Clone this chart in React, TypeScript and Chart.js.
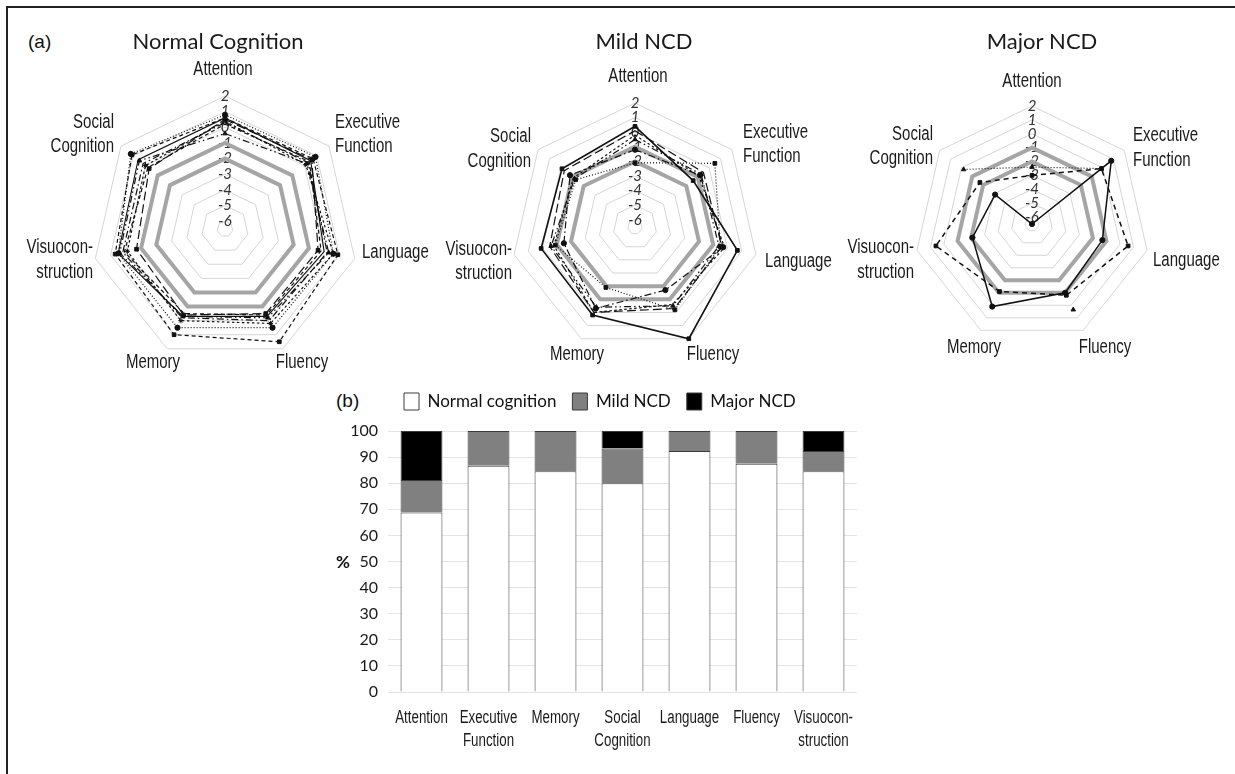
import React, { useEffect, useRef } from "react";
import { Chart, registerables } from "chart.js";

Chart.register(...registerables);

const ARIAL = "'Liberation Sans', Arial, sans-serif";
const HUMANIST = "Lato, 'Open Sans', sans-serif";
Chart.defaults.font.family = HUMANIST;

// ---------- radar panels: z-scores per cognitive domain ----------
const DOMAINS = ["Attention", "Executive Function", "Language", "Fluency", "Memory", "Visuoconstruction", "Social Cognition"];
const DOMAIN_LABEL_LINES = [
  ["Attention"],
  ["Executive", "Function"],
  ["Language"],
  ["Fluency"],
  ["Memory"],
  ["Visuocon-", "struction"],
  ["Social", "Cognition"],
];
const RING_TICKS = [-6.5, -6, -5, -4, -3, -2, -1, 0, 1, 2];
const RING_MIN = -6.5;
const RING_MAX = 2;
const CUTOFF_MILD = [-1, -1, -1, -1, -1, -1, -1];
const CUTOFF_MAJOR = [-2, -2, -2, -2, -2, -2, -2];

// Normal cognition (Att, EF, Lang, Flu, Mem, Vis, Soc)
const NC_A = [0.6, 0.7, 0.9, 1.5, 1.0, 0.7, 1.1];
const NC_B = [0.8, 0.9, 0.6, 0.5, 0.5, 0.5, 1.2];
const NC_C = [-0.4, 0.2, 0.3, -0.2, -0.3, 0.4, 0.5];
const NC_D = [0.5, 0.6, -0.4, -0.5, -0.4, -0.7, -0.3];
const NC_E = [0.3, 0.3, 0.2, 0.0, -0.2, 0.2, 0.2];
const NC_F = [0.6, 0.5, 0.0, -0.3, -0.3, 0.5, 0.6];
const NC_G = [0.4, 0.1, 0.6, 0.2, 0.0, -0.1, 0.0];
const NC_H = [0.2, 0.4, -0.2, -0.4, -0.5, 0.1, -0.2];

// Mild NCD
const MN_A = [0.4, -1.4, 0.7, 2.0, 0.2, 0.1, -0.1];
const MN_B = [-2.1, 0.5, -0.5, -0.2, -1.9, -0.9, -1.3];
const MN_C = [0.1, -0.5, -0.4, -0.3, 0.0, -0.5, -0.3];
const MN_D = [-1.2, -0.8, -0.3, -1.7, -0.3, -1.5, -0.8];
const MN_E = [-0.5, -0.7, -0.6, -0.5, -0.4, -0.6, -1.2];
const MN_F = [-0.2, -0.9, -0.2, -0.6, 0.0, -0.8, -1.1];

// Major NCD
const MJ_A = [-6.5, 0.8, -1.3, -1.0, 0.1, -2.1, -3.1];
const MJ_B = [-3.0, -0.1, 0.6, -0.8, -1.1, 0.6, -1.7];
const MJ_C = [-2.4, -0.1, null, 0.35, null, null, -0.2];

// ---------- bar panel: classification per domain (%) ----------
const BAR_CATEGORIES = [
  ["Attention"],
  ["Executive", "Function"],
  ["Memory"],
  ["Social", "Cognition"],
  ["Language"],
  ["Fluency"],
  ["Visuocon-", "struction"],
];
const NORMAL_PCT = [68.75, 86.67, 84.62, 80.0, 92.31, 87.5, 84.62];
const MILD_PCT = [12.5, 13.33, 15.38, 13.33, 7.69, 12.5, 7.69];
const MAJOR_PCT = [18.75, null, null, 6.67, null, null, 7.69];
const PCT_TICK_STEP = 10;

// line styles
const SOLID: number[] = [];
const DASHED = [4, 3];
const DOTTED = [1, 2];
const DASH_DOT = [7, 3, 1.5, 3];
const DASH_DOT_DOT = [7, 3, 1.5, 3, 1.5, 3];
const LONG_DASH = [9, 4];
const SHORT_DASH = [2.5, 2.5];

type Series = { data: (number | null)[]; dash: number[]; point?: string; width?: number };
type LabelPos = { dx: number; dy: number[]; align: CanvasTextAlign };
type Panel = {
  title: string;
  frame: { cx: number; cy: number; R: number; halfW: number };
  titleAt: [number, number];
  labels: LabelPos[];
  series: Series[];
};

const PANELS: Panel[] = [
  {
    title: "Normal Cognition",
    frame: { cx: 225, cy: 229, R: 133, halfW: 212 },
    titleAt: [-7, -187],
    labels: [
      { dx: -2, dy: [-159], align: "center" },
      { dx: 110, dy: [-106, -82], align: "left" },
      { dx: 137, dy: [24], align: "left" },
      { dx: 77, dy: [134], align: "center" },
      { dx: -72, dy: [134], align: "center" },
      { dx: -132, dy: [19, 44], align: "right" },
      { dx: -111, dy: [-106, -82], align: "right" },
    ],
    series: [
      { data: NC_A, dash: DASHED, point: "rect" },
      { data: NC_B, dash: DOTTED, point: "circle" },
      { data: NC_C, dash: DASH_DOT_DOT, point: "triangle" },
      { data: NC_D, dash: LONG_DASH, point: "rect" },
      { data: NC_E, dash: DASH_DOT },
      { data: NC_F, dash: SOLID, width: 1.1 },
      { data: NC_G, dash: SHORT_DASH, point: "star" },
      { data: NC_H, dash: DASHED },
    ],
  },
  {
    title: "Mild NCD",
    frame: { cx: 635, cy: 227, R: 124, halfW: 205 },
    titleAt: [9, -185],
    labels: [
      { dx: 3, dy: [-150], align: "center" },
      { dx: 108, dy: [-94, -70], align: "left" },
      { dx: 130, dy: [35], align: "left" },
      { dx: 78, dy: [128], align: "center" },
      { dx: -58, dy: [128], align: "center" },
      { dx: -123, dy: [23, 47], align: "right" },
      { dx: -104, dy: [-90, -65], align: "right" },
    ],
    series: [
      { data: MN_A, dash: SOLID, point: "rect", width: 1.6 },
      { data: MN_B, dash: DOTTED, point: "rect" },
      { data: MN_C, dash: LONG_DASH },
      { data: MN_D, dash: DASH_DOT, point: "circle" },
      { data: MN_E, dash: DASH_DOT_DOT, point: "triangle" },
      { data: MN_F, dash: SHORT_DASH },
    ],
  },
  {
    title: "Major NCD",
    frame: { cx: 1032, cy: 224, R: 118, halfW: 200 },
    titleAt: [10, -182],
    labels: [
      { dx: 0, dy: [-142], align: "center" },
      { dx: 101, dy: [-88, -63], align: "left" },
      { dx: 121, dy: [37], align: "left" },
      { dx: 73, dy: [124], align: "center" },
      { dx: -58, dy: [124], align: "center" },
      { dx: -118, dy: [24, 49], align: "right" },
      { dx: -99, dy: [-89, -65], align: "right" },
    ],
    series: [
      { data: MJ_A, dash: SOLID, point: "circle", width: 1.5 },
      { data: MJ_B, dash: [5, 4], point: "rect", width: 1.5 },
      { data: MJ_C, dash: DOTTED, point: "triangle" },
    ],
  },
];

const RADAR_H = 390;
const TICK_FONT_SIZE = 15;

// condensed text: Arial-metric glyphs squeezed horizontally
function fillNarrow(
  ctx: CanvasRenderingContext2D,
  text: string,
  x: number,
  y: number,
  align: CanvasTextAlign,
  squeeze: number
) {
  ctx.save();
  ctx.translate(x, y);
  ctx.scale(squeeze, 1);
  ctx.textAlign = align;
  ctx.fillText(text, 0, 0);
  ctx.restore();
}

function RadarPanel({ panel }: { panel: Panel }) {
  const ref = useRef<HTMLCanvasElement>(null);
  const { cx, cy, R, halfW } = panel.frame;

  useEffect(() => {
    const half = TICK_FONT_SIZE / 2; // the radial scale keeps this much room around the rings
    const textPlugin = {
      id: "radarText",
      afterDraw(chart: any) {
        const s = chart.scales.r;
        const ctx = chart.ctx as CanvasRenderingContext2D;
        ctx.save();
        ctx.fillStyle = "#1a1a1a";
        ctx.textBaseline = "middle";
        ctx.textAlign = "center";
        ctx.font = `22px ${HUMANIST}`;
        ctx.fillText(panel.title, s.xCenter + panel.titleAt[0], s.yCenter + panel.titleAt[1]);
        ctx.font = `19.5px ${ARIAL}`;
        panel.labels.forEach((lab, i) => {
          DOMAIN_LABEL_LINES[i].forEach((line, k) => {
            fillNarrow(ctx, line, s.xCenter + lab.dx, s.yCenter + lab.dy[k], lab.align, 0.77);
          });
        });
        ctx.restore();
      },
    };

    const datasets: any[] = panel.series.map((s) => ({
      data: s.data,
      borderColor: "#111",
      borderWidth: s.width ?? 1.2,
      borderDash: s.dash,
      pointStyle: s.point ?? "circle",
      pointRadius: s.point ? 2.6 : 0,
      pointBackgroundColor: "#111",
      pointBorderColor: "#111",
      pointBorderWidth: 1,
      fill: false,
      spanGaps: false,
      order: 1,
    }));
    [CUTOFF_MILD, CUTOFF_MAJOR].forEach((cut) =>
      datasets.push({
        data: cut,
        borderColor: "#a5a5a5",
        borderWidth: 4,
        pointRadius: 0,
        fill: false,
        order: 10,
      })
    );

    const chart = new Chart(ref.current!, {
      type: "radar",
      data: { labels: DOMAINS, datasets },
      options: {
        responsive: false,
        animation: false,
        events: [],
        layout: {
          padding: {
            left: halfW - R - half,
            right: halfW - R - half,
            top: cy - R - half,
            bottom: RADAR_H - cy - R - half,
          },
        },
        elements: { line: { tension: 0 } },
        plugins: { legend: { display: false }, tooltip: { enabled: false }, title: { display: false } },
        scales: {
          r: {
            min: RING_MIN,
            max: RING_MAX,
            afterBuildTicks: (scale: any) => {
              scale.ticks = RING_TICKS.map((v) => ({ value: v }));
            },
            ticks: {
              display: true,
              showLabelBackdrop: false,
              backdropPadding: 0,
              color: "#333333",
              font: { family: HUMANIST, size: TICK_FONT_SIZE, style: "italic" },
              callback: (v: any) => (v === RING_MIN ? "" : String(v)),
            },
            grid: { color: "#d6d6d6", lineWidth: 1 },
            angleLines: { display: false },
            pointLabels: { display: false },
          },
        },
      },
      plugins: [textPlugin],
    } as any);
    return () => chart.destroy();
  }, [panel]);

  return (
    <canvas
      ref={ref}
      width={2 * halfW}
      height={RADAR_H}
      style={{ position: "absolute", left: cx - halfW, top: 0, width: 2 * halfW, height: RADAR_H }}
    />
  );
}

const BAR_BOX = { left: 320, top: 375, width: 560, height: 399 };

function BarPanel() {
  const ref = useRef<HTMLCanvasElement>(null);

  useEffect(() => {
    const axisTextPlugin = {
      id: "axisText",
      afterDraw(chart: any) {
        const { ctx, chartArea, scales } = chart;
        ctx.save();
        ctx.fillStyle = "#111";
        ctx.textBaseline = "middle";
        // y-axis title, kept upright
        ctx.font = `bold 17px ${HUMANIST}`;
        ctx.textAlign = "center";
        ctx.fillText("%", chartArea.left - 45, (chartArea.top + chartArea.bottom) / 2 + 1);
        // category labels under the bars
        ctx.font = `18px ${ARIAL}`;
        ctx.fillStyle = "#1a1a1a";
        BAR_CATEGORIES.forEach((lines, i) => {
          const x = scales.x.getPixelForTick(i);
          lines.forEach((line, k) => fillNarrow(ctx, line, x, chartArea.bottom + 26 + k * 23.5, "center", 0.74));
        });
        ctx.restore();
      },
    };

    const common = { borderColor: "#3c3c3c", borderWidth: 1, categoryPercentage: 1, barPercentage: 0.625 };
    const chart = new Chart(ref.current!, {
      type: "bar",
      data: {
        labels: BAR_CATEGORIES.map((l) => l.join(" ")),
        datasets: [
          { label: "Normal cognition", data: NORMAL_PCT, backgroundColor: "#ffffff", ...common },
          { label: "Mild NCD", data: MILD_PCT, backgroundColor: "#808080", ...common },
          { label: "Major NCD", data: MAJOR_PCT, backgroundColor: "#000000", ...common },
        ],
      },
      options: {
        responsive: false,
        animation: false,
        events: [],
        layout: { padding: { left: 0, right: 23, top: 2, bottom: 22 } },
        plugins: {
          legend: {
            display: true,
            position: "top",
            align: "start",
            fullSize: false,
            labels: {
              boxWidth: 15,
              boxHeight: 17,
              padding: 16,
              color: "#111",
              font: { family: HUMANIST, size: 17 },
            },
          },
          title: {
            display: true,
            text: "",
            fullSize: false,
            weight: 500,
            font: { size: 1, lineHeight: 1 },
            padding: { top: 0, bottom: 10 },
          },
          tooltip: { enabled: false },
        },
        scales: {
          x: {
            stacked: true,
            grid: { display: false, drawTicks: false },
            border: { display: false },
            ticks: { display: false },
            afterFit: (s: any) => {
              s.height = 60;
            },
          },
          y: {
            stacked: true,
            min: 0,
            max: 100,
            ticks: { stepSize: PCT_TICK_STEP, color: "#1a1a1a", font: { family: HUMANIST, size: 16 }, padding: 10 },
            grid: { color: "#e4e4e4", drawTicks: false },
            border: { display: false },
            afterFit: (s: any) => {
              s.width = 68;
            },
          },
        },
      },
      plugins: [axisTextPlugin],
    } as any);
    return () => chart.destroy();
  }, []);

  return (
    <canvas
      ref={ref}
      width={BAR_BOX.width}
      height={BAR_BOX.height}
      style={{
        position: "absolute",
        left: BAR_BOX.left,
        top: BAR_BOX.top,
        width: BAR_BOX.width,
        height: BAR_BOX.height,
      }}
    />
  );
}

const panelTag: React.CSSProperties = {
  position: "absolute",
  font: `19px ${ARIAL}`,
  lineHeight: "22px",
  color: "#111",
};

export default function App() {
  return (
    <div
      style={{
        position: "absolute",
        left: 0,
        top: 0,
        width: 1235,
        height: 774,
        overflow: "hidden",
        background: "#fff",
      }}
    >
      <div
        style={{
          position: "absolute",
          left: 6,
          top: 6,
          width: 1260,
          height: 800,
          borderTop: "2px solid #222",
          borderLeft: "2px solid #222",
        }}
      />
      <div style={{ ...panelTag, left: 28, top: 31 }}>(a)</div>
      <div style={{ ...panelTag, left: 336, top: 390 }}>(b)</div>
      {PANELS.map((p) => (
        <RadarPanel key={p.title} panel={p} />
      ))}
      <BarPanel />
    </div>
  );
}
